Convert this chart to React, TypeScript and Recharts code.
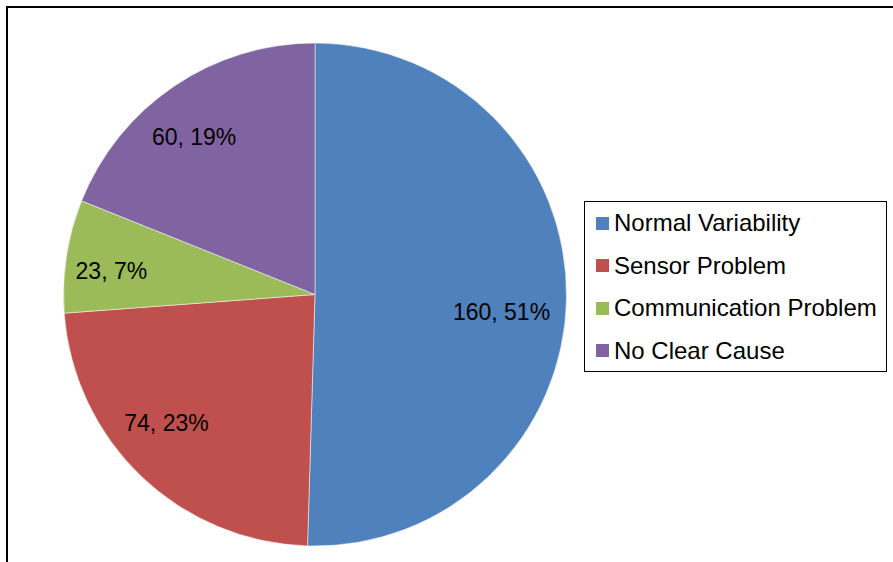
import { PieChart, Pie, Cell, Legend } from "recharts";

// Slice data, clockwise from 12 o'clock
const causes = ["Normal Variability", "Sensor Problem", "Communication Problem", "No Clear Cause"];
const counts = [160, 74, 23, 60];
const percentLabels = [51, 23, 7, 19];
const sliceColors = ["#4F81BD", "#C0504D", "#9BBB59", "#8064A2"];

// Label placement tweaks (fraction of radius, clockwise angle shift in degrees)
const labelRadius = [0.745, 0.781, 0.815, 0.79];
const labelShift = [4.65, 5.4, -2.2, -3.4];

const FONT = "'Liberation Sans', Arial, sans-serif";
const RAD = Math.PI / 180;

const chartData = causes.map((name, i) => ({
  name,
  value: counts[i],
  pct: percentLabels[i],
}));

function renderLabel(props: any) {
  const { cx, cy, midAngle, outerRadius, index } = props;
  const angle = midAngle - labelShift[index];
  const r = outerRadius * labelRadius[index];
  const x = cx + Math.cos(-angle * RAD) * r;
  const y = cy + Math.sin(-angle * RAD) * r;
  return (
    <text
      x={x}
      y={y}
      textAnchor="middle"
      dominantBaseline="central"
      fill="#000"
      style={{ fontFamily: FONT, fontSize: 23 }}
    >
      {`${counts[index]}, ${percentLabels[index]}%`}
    </text>
  );
}

function LegendBox(props: any) {
  // keep the series order, not the alphabetical one
  const items = [...(props.payload || [])].sort(
    (a: any, b: any) => causes.indexOf(a.value) - causes.indexOf(b.value)
  );
  return (
    <div
      style={{
        boxSizing: "border-box",
        width: 303,
        height: 171,
        border: "1.5px solid #000",
        background: "#fff",
        fontFamily: FONT,
        fontSize: 24,
        color: "#000",
        paddingTop: 0,
        paddingLeft: 11,
      }}
    >
      {items.map((entry: any, i: number) => (
        <div
          key={i}
          style={{ display: "flex", alignItems: "center", height: 42.5, whiteSpace: "nowrap" }}
        >
          <span
            style={{
              display: "inline-block",
              width: 13,
              height: 13,
              background: entry.color,
              marginRight: 5,
            }}
          />
          <span>{entry.value}</span>
        </div>
      ))}
    </div>
  );
}

export default function App() {
  return (
    <div
      style={{
        position: "absolute",
        left: 0,
        top: 0,
        width: 893,
        height: 562,
        overflow: "hidden",
        background: "#fff",
      }}
    >
      <div
        style={{
          position: "absolute",
          left: 6,
          top: 6,
          width: 920,
          height: 600,
          border: "2px solid #000",
        }}
      />
      <div style={{ position: "absolute", left: 0, top: 0 }}>
        <PieChart width={893} height={562} margin={{ top: 0, right: 0, bottom: 0, left: 0 }}>
          <Pie
            data={chartData}
            dataKey="value"
            nameKey="name"
            cx={315}
            cy={294.5}
            outerRadius={251.5}
            startAngle={90}
            endAngle={-270}
            stroke="#ffffff"
            strokeWidth={0.5}
            label={renderLabel}
            labelLine={false}
            isAnimationActive={false}
          >
            {chartData.map((d, i) => (
              <Cell key={d.name} fill={sliceColors[i]} />
            ))}
          </Pie>
          <Legend
            layout="vertical"
            align="right"
            verticalAlign="middle"
            content={<LegendBox />}
            wrapperStyle={{ position: "absolute", left: 584, top: 201, width: 303, height: 171 }}
          />
        </PieChart>
      </div>
    </div>
  );
}
